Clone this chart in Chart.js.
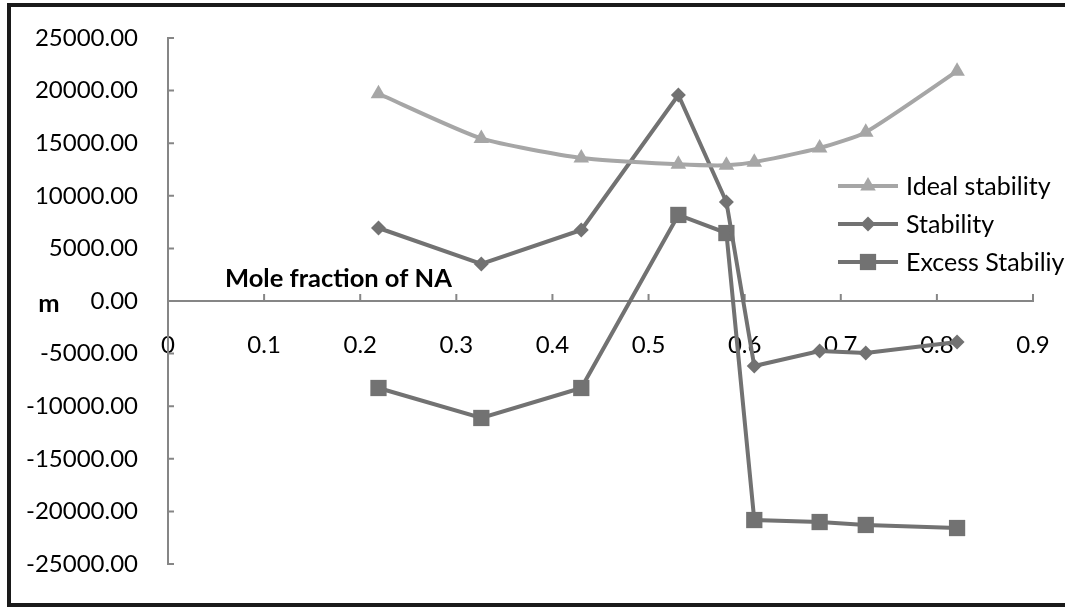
<!DOCTYPE html>
<html>
<head>
<meta charset="utf-8">
<script src="https://cdn.jsdelivr.net/npm/chart.js@4"></script>
<style>
  html, body { margin: 0; padding: 0; background: #fff; }
  #wrap { position: relative; width: 1065px; height: 607px; overflow: hidden; }
  #frame { position: absolute; left: 7px; top: 3px; width: 1100px; height: 596px;
           border: 4px solid #1a1a1a; box-sizing: content-box; pointer-events: none; }
  canvas { position: absolute; left: 0; top: 0; }
</style>
</head>
<body>
<div id="wrap">
  <canvas id="myChart" width="1065" height="607"></canvas>
  <div id="frame"></div>
</div>
<script>
// mole fraction of NA (x) for each measured point
const moleFraction = [0.219, 0.326, 0.430, 0.531, 0.581, 0.610, 0.678, 0.726, 0.821];

const idealStability = [19700, 15450, 13600, 13000, 12900, 13200, 14550, 16050, 21850];
const stability = [6940, 3520, 6750, 19580, 9410, -6180, -4750, -4940, -3900];
const excessStability = [-8270, -11120, -8270, 8180, 6460, -20820, -21010, -21290, -21580];

const seriesNames = ["Ideal stability", "Stability", "Excess Stabiliy"];

const yTicks = [-25000, -20000, -15000, -10000, -5000, 0, 5000, 10000, 15000, 20000, 25000];
const xTicks = [0, 0.1, 0.2, 0.3, 0.4, 0.5, 0.6, 0.7, 0.8, 0.9];

const FONT = "Lato";
const lightGray = "#a6a6a6";
const darkGray = "#727272";
const axisGray = "#868686";

function points(ys) {
  return moleFraction.map((x, i) => ({ x: x, y: ys[i] }));
}

const data = {
  datasets: [
    {
      label: seriesNames[0],
      data: points(idealStability),
      borderColor: lightGray,
      backgroundColor: lightGray,
      borderWidth: 4,
      tension: 0.2,
      pointStyle: "triangle",
      pointRadius: 9,
      pointBorderWidth: 0,
    },
    {
      label: seriesNames[1],
      data: points(stability),
      borderColor: darkGray,
      backgroundColor: darkGray,
      borderWidth: 4,
      tension: 0,
      pointStyle: "rectRot",
      pointRadius: 7.5,
      pointBorderWidth: 0,
    },
    {
      label: seriesNames[2],
      data: points(excessStability),
      borderColor: darkGray,
      backgroundColor: darkGray,
      borderWidth: 4,
      tension: 0,
      pointStyle: "rect",
      pointRadius: 11.5,
      pointBorderWidth: 0,
    },
  ],
};

// axis titles, inward tick marks and the legend, drawn like the original
const extras = {
  id: "extras",
  beforeDatasetsDraw(chart) {
    const ctx = chart.ctx;
    const xs = chart.scales.x;
    const ys = chart.scales.y;
    const y0 = ys.getPixelForValue(0);
    ctx.save();
    ctx.strokeStyle = axisGray;
    ctx.lineWidth = 2;
    ctx.beginPath();
    xTicks.forEach(v => {
      const px = xs.getPixelForValue(v);
      ctx.moveTo(px, y0);
      ctx.lineTo(px, y0 - 7);
    });
    yTicks.forEach(v => {
      const py = ys.getPixelForValue(v);
      ctx.moveTo(xs.left, py);
      ctx.lineTo(xs.left + 6, py);
    });
    ctx.stroke();

    ctx.fillStyle = "#000";
    ctx.font = "bold 25.5px " + FONT;
    ctx.textBaseline = "alphabetic";
    ctx.textAlign = "left";
    ctx.fillText("Mole fraction of NA", chart.chartArea.left + 57, y0 - 14);
    ctx.textAlign = "center";
    ctx.fillText("m", 49, y0 + 11);
    ctx.restore();
  },
  afterDraw(chart) {
    const ctx = chart.ctx;
    ctx.save();
    chart.data.datasets.forEach((ds, i) => {
      const ly = 186 + 38 * i;
      ctx.strokeStyle = ds.borderColor;
      ctx.lineWidth = 4;
      ctx.beginPath();
      ctx.moveTo(838, ly);
      ctx.lineTo(898, ly);
      ctx.stroke();
      ctx.fillStyle = ds.backgroundColor;
      Chart.helpers.drawPoint(ctx, {
        pointStyle: ds.pointStyle,
        radius: ds.pointRadius,
        rotation: 0,
        borderWidth: 0,
      }, 868, ly);
      ctx.fillStyle = "#000";
      ctx.font = "25px " + FONT;
      ctx.textAlign = "left";
      ctx.textBaseline = "middle";
      ctx.fillText(ds.label, 906, ly + 1);
    });
    ctx.restore();
  },
};

const config = {
  type: "line",
  data: data,
  options: {
    responsive: false,
    animation: false,
    layout: { padding: { left: 10, top: 38, right: 32, bottom: 43 } },
    plugins: {
      legend: { display: false },
      tooltip: { enabled: false },
    },
    scales: {
      x: {
        type: "linear",
        min: 0,
        max: 0.9,
        position: { y: 0 },
        afterBuildTicks: (scale) => { scale.ticks = xTicks.map(v => ({ value: v })); },
        afterFit: (scale) => { scale.paddingLeft = 0; scale.paddingRight = 0; },
        grid: { display: false, drawTicks: false },
        border: { color: axisGray, width: 2 },
        ticks: {
          padding: 30,
          color: "#000",
          font: { family: FONT, size: 24 },
          callback: (v) => (v === 0 ? "0" : (Math.round(v * 10) / 10).toFixed(1)),
        },
      },
      y: {
        type: "linear",
        min: -25000,
        max: 25000,
        afterBuildTicks: (scale) => { scale.ticks = yTicks.map(v => ({ value: v })); },
        afterFit: (scale) => { scale.width = 158; scale.paddingTop = 0; scale.paddingBottom = 0; },
        grid: { display: false, drawTicks: false },
        border: { color: axisGray, width: 2 },
        ticks: {
          padding: 30,
          color: "#000",
          font: { family: FONT, size: 24 },
          callback: (v) => v.toFixed(2),
        },
      },
    },
  },
  plugins: [extras],
};

var myChart = new Chart(document.getElementById("myChart"), config);
</script>
</body>
</html>
